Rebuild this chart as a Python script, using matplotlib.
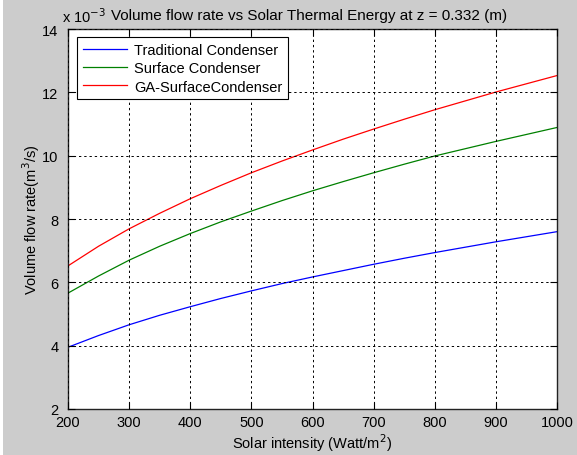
import matplotlib
matplotlib.use("Agg")
import matplotlib.pyplot as plt
from matplotlib.patches import Rectangle

# Data (flow rate in units of 1e-3 m^3/s)
intensity = [200, 250, 300, 350, 400, 450, 500, 550, 600, 650, 700, 750, 800, 850, 900, 950, 1000]
traditional = [3.95, 4.32, 4.66, 4.96, 5.23, 5.49, 5.73, 5.96, 6.17, 6.37, 6.57, 6.76, 6.94, 7.11, 7.28, 7.44, 7.60]
surface = [5.66, 6.20, 6.70, 7.14, 7.54, 7.91, 8.25, 8.58, 8.89, 9.18, 9.46, 9.73, 9.99, 10.22, 10.45, 10.67, 10.89]
ga_surface = [6.52, 7.14, 7.69, 8.18, 8.64, 9.06, 9.46, 9.83, 10.18, 10.52, 10.84, 11.15, 11.45, 11.73, 12.01, 12.27, 12.53]
series_names = ["Traditional Condenser", "Surface Condenser", "GA-SurfaceCondenser"]
xticks = [200, 300, 400, 500, 600, 700, 800, 900, 1000]
yticks = [2, 4, 6, 8, 10, 12, 14]

plt.rcParams['font.family'] = ['Liberation Sans', 'DejaVu Sans']

W, H = 577, 456
fig = plt.figure(figsize=(W / 100, H / 100), dpi=100, facecolor='white')
fig.patches.append(Rectangle((3 / W, 0), 1 - 3 / W, 1, transform=fig.transFigure,
                             facecolor='#cccccc', edgecolor='none', zorder=-10))

ax = fig.add_axes([68 / W, (H - 410) / H, (557 - 68) / W, (410 - 30) / H])
ax.set_facecolor('white')

ax.plot(intensity, traditional, color=(0, 0, 1), lw=0.9, label=series_names[0])
ax.plot(intensity, surface, color=(0, 0.5, 0), lw=0.9, label=series_names[1])
ax.plot(intensity, ga_surface, color=(1, 0, 0), lw=0.9, label=series_names[2])

ax.set_xlim(200, 1000)
ax.set_ylim(2, 14)
ax.set_xticks(xticks)
ax.set_yticks(yticks)
ax.set_xticklabels([str(v) for v in xticks])
ax.set_yticklabels([str(v) for v in yticks])
ax.tick_params(direction='in', length=5, width=0.8, top=True, right=True,
               labelsize=10.5, colors='black')
ax.tick_params(axis='x', pad=4)
ax.tick_params(axis='y', pad=7)
for s in ax.spines.values():
    s.set_linewidth(1.0)
    s.set_color('#222222')

ax.grid(True, color='black', linestyle=(0, (2.4, 3)), linewidth=0.7)
ax.set_axisbelow(False)

ax.set_xlabel("Solar intensity (Watt/m$^2$)", fontsize=10.5, labelpad=2)
ax.set_ylabel("Volume flow rate(m$^3$/s)", fontsize=10.5, labelpad=0)

fig.text(111 / W, 1 - 16 / H, "Volume flow rate vs Solar Thermal Energy at z = 0.332 (m)",
         ha='left', va='center', fontsize=11)
fig.text(62 / W, 1 - 17 / H, "x 10$^{-3}$", ha='left', va='center', fontsize=10.5)

leg = ax.legend(loc='upper left', bbox_to_anchor=(9 / 489, 1 - 8 / 380), fontsize=10.5,
                fancybox=False, framealpha=1, edgecolor='black', borderaxespad=0,
                handlelength=3.0, handletextpad=0.5, labelspacing=0.3, borderpad=0.4)
leg.get_frame().set_linewidth(0.8)

fig.savefig("out.png", dpi=100, facecolor=fig.get_facecolor())
